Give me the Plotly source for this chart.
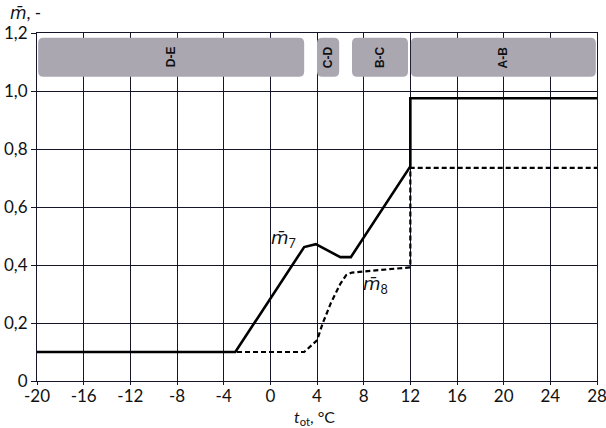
import plotly.graph_objects as go

# m7 (solid) and m8 (dashed) curves
t7 = [-20, -3, 2.9, 3.9, 6, 6.9, 12, 12, 28]
m7 = [0.1, 0.1, 0.462, 0.472, 0.427, 0.427, 0.74, 0.975, 0.975]

t8 = [-20, -3, 2.9, 4, 4.5, 5.2, 6, 6.5, 7, 12, 12, 28]
m8 = [0.1, 0.1, 0.1, 0.14, 0.2, 0.27, 0.335, 0.365, 0.374, 0.392, 0.735, 0.735]

# operating zones shown as grey bars at the top
zone_labels = ["D-E", "C-D", "B-C", "A-B"]
zone_start = [-19.9, 4.0, 7.0, 12.05]
zone_end = [2.9, 5.9, 11.8, 27.9]

x_ticks = list(range(-20, 29, 4))
x_ticktext = [str(v) for v in x_ticks]  # plain hyphen, not the unicode minus
y_ticks = [0, 0.2, 0.4, 0.6, 0.8, 1.0, 1.2]
y_ticktext = ["0", "0,2", "0,4", "0,6", "0,8", "1,0", "1,2"]

FONT = "Lato"
GRID = "#15152a"
MBAR = '<i><span style="font-family:DejaVu Sans">m̄</span></i>'

fig = go.Figure()

fig.add_trace(go.Scatter(x=t7, y=m7, mode="lines",
                         line=dict(color="black", width=2.6), showlegend=False))
fig.add_trace(go.Scatter(x=t8, y=m8, mode="lines",
                         line=dict(color="black", width=2.2, dash="5px,3px"),
                         showlegend=False))


def rounded(x0, x1, y0, y1, rx=0.45, ry=0.018):
    return (f"M {x0 + rx},{y0} L {x1 - rx},{y0} Q {x1},{y0} {x1},{y0 + ry} "
            f"L {x1},{y1 - ry} Q {x1},{y1} {x1 - rx},{y1} "
            f"L {x0 + rx},{y1} Q {x0},{y1} {x0},{y1 - ry} "
            f"L {x0},{y0 + ry} Q {x0},{y0} {x0 + rx},{y0} Z")


shapes = []
annotations = []
for lab, a, b in zip(zone_labels, zone_start, zone_end):
    shapes.append(dict(type="path", path=rounded(a, b, 1.049, 1.184),
                       fillcolor="#aba7b1", line=dict(width=0), layer="above"))
    annotations.append(dict(x=(a + b) / 2, y=1.117, text=f"<b>{lab}</b>",
                            textangle=-90, showarrow=False,
                            font=dict(family="Arial", size=12, color="#111")))

annotations += [
    dict(x=1.1, y=0.49, text=MBAR + "<sub>7</sub>", showarrow=False,
         font=dict(family=FONT, size=18, color="#111")),
    dict(x=9.0, y=0.33, text=MBAR + "<sub>8</sub>", showarrow=False,
         font=dict(family=FONT, size=18, color="#111")),
    dict(xref="paper", yref="paper", x=-0.052, y=1.06, xanchor="left",
         yanchor="middle", text=MBAR + ", -", showarrow=False,
         font=dict(family=FONT, size=17, color="#111")),
    dict(xref="paper", yref="paper", x=0.496, y=-0.106, xanchor="center",
         yanchor="middle", text="<i>t</i><sub>ot</sub>, °C", showarrow=False,
         font=dict(family=FONT, size=16, color="#111")),
]

fig.update_layout(
    width=606, height=428,
    margin=dict(l=37, r=9, t=33, b=47),
    paper_bgcolor="white", plot_bgcolor="white",
    font=dict(family=FONT, size=17, color="#111"),
    shapes=shapes,
    annotations=annotations,
)

fig.update_xaxes(range=[-20, 28], tickvals=x_ticks, ticktext=x_ticktext,
                 automargin=False, ticklabeloverflow="allow",
                 ticklabelstandoff=-3, showgrid=True,
                 gridcolor=GRID, gridwidth=1, zeroline=False,
                 showline=True, linecolor=GRID, linewidth=1, mirror=True,
                 ticks="outside", ticklen=3, tickcolor=GRID)
fig.update_yaxes(range=[0, 1.2], tickvals=y_ticks, ticktext=y_ticktext,
                 automargin=False, showgrid=True,
                 gridcolor=GRID, gridwidth=1, zeroline=False,
                 showline=True, linecolor=GRID, linewidth=1, mirror=True,
                 ticks="outside", ticklen=5, tickcolor=GRID)

# drop the default 8px page margin so the figure fills the window
fig.write_html("out.html", config={"displayModeBar": False},
               post_script="document.body.style.margin='0';")
